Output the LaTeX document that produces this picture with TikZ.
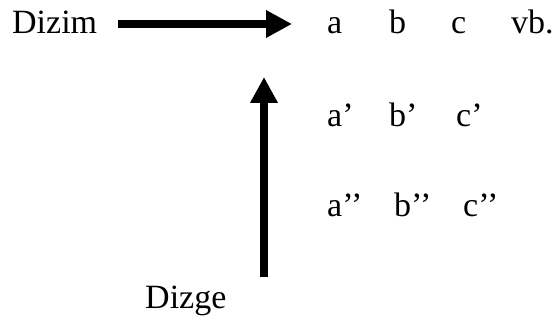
\documentclass[tikz,border=0pt]{standalone}
\usepackage{fontspec}
\setmainfont{Liberation Serif}
\usetikzlibrary{arrows.meta}
\begin{document}
\begin{tikzpicture}[x=1pt,y=-1pt,
  lbl/.style={inner sep=0pt,anchor=base west,font=\fontsize{34}{40}\selectfont},
  bigarrow/.style={line width=8pt,-{Triangle[length=26pt,width=26pt]}}]
\useasboundingbox (0,0) rectangle (556,320);
\node[lbl] (dizim) at (12,34) {Dizim};
\node[lbl] (dizge) at (145,308) {Dizge};
\node[lbl] (a1) at (327,34) {a};
\node[lbl] (b1) at (389,34) {b};
\node[lbl] (c1) at (451,34) {c};
\node[lbl] (vb) at (511,34) {vb.};
\node[lbl] (a2) at (327,127) {a’};
\node[lbl] (b2) at (389,127) {b’};
\node[lbl] (c2) at (456,127) {c’};
\node[lbl] (a3) at (327,217) {a’’};
\node[lbl] (b3) at (394,217) {b’’};
\node[lbl] (c3) at (463,217) {c’’};
\coordinate (h1) at (118,24);
\coordinate (h2) at (292,24);
\coordinate (v1) at (264,277);
\coordinate (v2) at (264,77);
\draw[bigarrow] (h1) -- (h2);
\draw[bigarrow] (v1) -- (v2);
\end{tikzpicture}
\end{document}
